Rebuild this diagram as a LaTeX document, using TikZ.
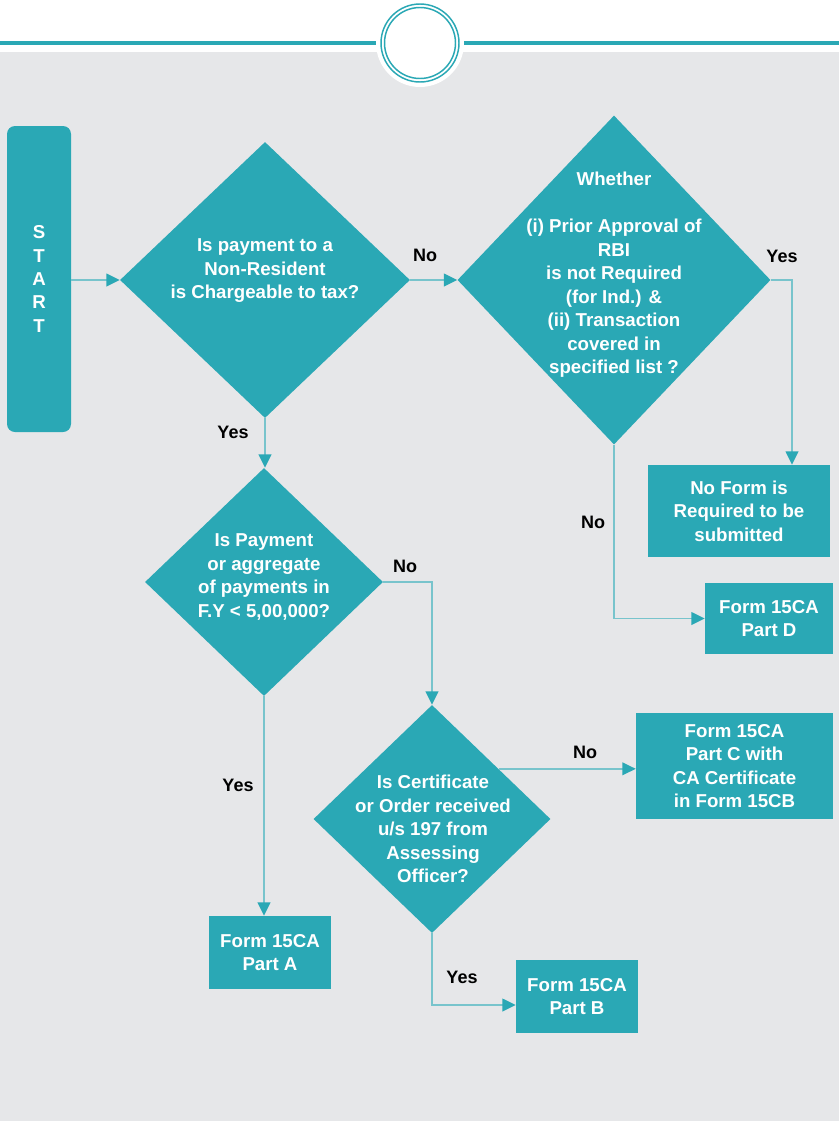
\documentclass[tikz,border=0pt]{standalone}
\usepackage{fontspec}
\setmainfont{Liberation Sans}
\usetikzlibrary{shapes.geometric,arrows.meta,calc}
\definecolor{teal1}{HTML}{2AA8B5}
\definecolor{tline}{HTML}{78C4CC}
\definecolor{bg}{HTML}{E6E7E9}
\begin{document}
\begin{tikzpicture}[x=0.75pt,y=-0.75pt,
 dia/.style={diamond, fill=teal1, inner sep=0pt, aspect=1},
 box/.style={rectangle, fill=teal1, inner sep=0pt, text=white, align=center,
   font=\bfseries\fontsize{14}{17.6}\selectfont},
 txt/.style={text=white, font=\bfseries\fontsize{14}{17.6}\selectfont, align=center, inner sep=0pt},
 lbl/.style={text=black, font=\bfseries\fontsize{13.5}{16}\selectfont, inner sep=0pt},
 arr/.style={draw=tline, line width=1.2pt, -{Triangle[length=10pt,width=9.5pt,color=teal1]}},
]
\useasboundingbox (0,0) rectangle (839,1121);
\fill[white] (0,0) rectangle (839,1121);
\fill[bg] (0,52) rectangle (839,1121);
\draw[teal1, line width=2.5pt] (0,43) -- (376,43);
\draw[teal1, line width=2.5pt] (464,43) -- (839,43);
\fill[white] (420,43) circle[radius=44];
\draw[teal1, line width=1.1pt] (420,43) circle[radius=39];
\draw[teal1, line width=1.1pt] (420,43) circle[radius=35.5];

% start
\node[box, rounded corners=6pt, minimum width=48pt, minimum height=229.5pt] (start) at (39,279) {S\\T\\A\\R\\T};

% diamonds
\node[dia, minimum width=217.5pt, minimum height=207pt] (D1) at (265,280) {};
\node[txt] (D1t) at (265,271) {Is payment to a\\Non-Resident\\is Chargeable to tax?};

\node[dia, minimum width=234.75pt, minimum height=246.75pt] (D2) at (614,280) {};
\node[txt] (D2t) at (614,275) {Whether\\[17.6pt](i) Prior Approval of\\RBI\\is not Required\\(for Ind.) \&\\(ii) Transaction\\covered in\\specified list ?};

\node[dia, minimum width=178.5pt, minimum height=171pt] (D3) at (264,582) {};
\node[txt] (D3t) at (264,577) {Is Payment\\or aggregate\\of payments in\\F.Y < 5,00,000?};

\node[dia, minimum width=177.75pt, minimum height=171pt] (D4) at (432,819) {};
\node[txt] (D4t) at (433,829) {Is Certificate\\or Order received\\u/s 197 from\\Assessing\\Officer?};

% boxes
\node[box, minimum width=136.5pt, minimum height=69pt] (noform) at (739,511) {No Form is\\Required to be\\submitted};
\node[box, minimum width=96pt, minimum height=53.25pt] (partD) at (769,618.5) {Form 15CA\\Part D};
\node[box, minimum width=147.75pt, minimum height=79.5pt] (partC) at (734.5,766) {Form 15CA\\Part C with\\CA Certificate\\in Form 15CB};
\node[box, minimum width=91.5pt, minimum height=54.75pt] (partA) at (270,952.5) {Form 15CA\\Part A};
\node[box, minimum width=91.5pt, minimum height=54.75pt] (partB) at (577,996.5) {Form 15CA\\Part B};

% connectors
\draw[arr] (start.east |- D1.west) -- (D1.west);
\draw[arr] (D1.east) -- (D1.east -| D2.west);
\draw[arr] (D2.east) -| ($(noform.north)+(53,0)$);
\draw[arr] (D2.south) |- (partD.west);
\draw[arr] (D1.south) -- (D1.south |- D3.north);
\draw[arr] (D3.east) -| (D4.north);
\draw[arr] (D4.37) -- (D4.37 -| partC.west);
\draw[arr] (D3.south) -- (D3.south |- partA.north);
\draw[arr] (D4.south) |- ($(partB.west)+(0,8.5)$);

% labels
\node[lbl] (l1) at (425,255) {No};
\node[lbl] (l2) at (782,256) {Yes};
\node[lbl] (l3) at (593,522) {No};
\node[lbl] (l4) at (233,432) {Yes};
\node[lbl] (l5) at (405,566) {No};
\node[lbl] (l6) at (238,785) {Yes};
\node[lbl] (l7) at (585,752) {No};
\node[lbl] (l8) at (462,977) {Yes};
\end{tikzpicture}
\end{document}
